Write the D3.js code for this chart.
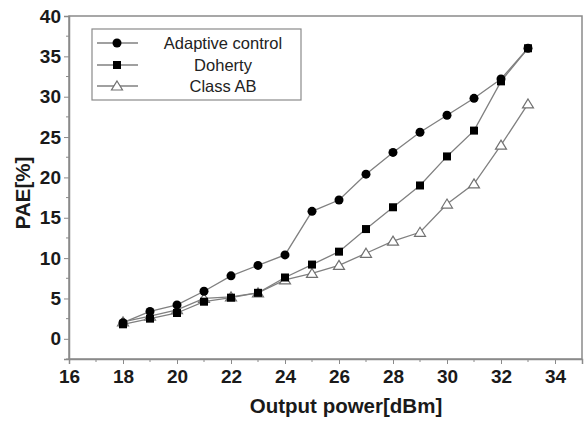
<!DOCTYPE html>
<html>
<head>
<meta charset="utf-8">
<script src="https://cdn.jsdelivr.net/npm/d3@7"></script>
<style>
  body { margin: 0; background: #fff; }
  svg { display: block; font-family: "Liberation Sans", Arial, sans-serif; }
</style>
</head>
<body>
<div id="chart"></div>
<script>
var power = [18, 19, 20, 21, 22, 23, 24, 25, 26, 27, 28, 29, 30, 31, 32, 33];
var adaptive = [2.0, 3.4, 4.2, 5.9, 7.8, 9.1, 10.4, 15.8, 17.2, 20.4, 23.1, 25.6, 27.7, 29.8, 32.2, 36.0];
var doherty = [1.8, 2.5, 3.2, 4.6, 5.1, 5.7, 7.6, 9.2, 10.8, 13.6, 16.3, 19.0, 22.6, 25.8, 31.9, 36.0];
var classAB = [2.1, 2.8, 3.6, 5.0, 5.2, 5.7, 7.3, 8.1, 9.1, 10.6, 12.1, 13.2, 16.7, 19.2, 24.0, 29.1];
var xTicks = [16, 18, 20, 22, 24, 26, 28, 30, 32, 34];
var yTicks = [0, 5, 10, 15, 20, 25, 30, 35, 40];
var seriesNames = ["Adaptive control", "Doherty", "Class AB"];

var width = 587, height = 423;
var margin = {left: 69, top: 16, right: 5, bottom: 64};

var svg = d3.select('#chart').append('svg')
    .attr('width', width)
    .attr('height', height);

var x = d3.scaleLinear().domain([16, 35]).range([margin.left, width - margin.right]);
var y = d3.scaleLinear().domain([-2.5, 40]).range([height - margin.bottom, margin.top]);

var grey = '#8a8a8a';

// frame
svg.append('rect')
    .attr('x', x(16)).attr('y', y(40))
    .attr('width', x(35) - x(16)).attr('height', y(-2.5) - y(40))
    .attr('fill', 'none').attr('stroke', grey).attr('stroke-width', 1.5);

// x axis
var xAxis = svg.append('g').attr('transform', 'translate(0,' + y(-2.5) + ')')
    .call(d3.axisBottom(x).tickValues(xTicks).tickSize(5).tickPadding(6).tickFormat(d3.format('d')));
xAxis.append('g').selectAll('line').data(d3.range(17, 35, 2)).enter().append('line')
    .attr('x1', d => x(d)).attr('x2', d => x(d)).attr('y1', 0).attr('y2', 3)
    .attr('stroke', grey);

// y axis
var yAxis = svg.append('g').attr('transform', 'translate(' + x(16) + ',0)')
    .call(d3.axisLeft(y).tickValues(yTicks).tickSize(5).tickPadding(3).tickFormat(d3.format('d')));
yAxis.append('g').selectAll('line').data(d3.range(-2.5, 40, 5)).enter().append('line')
    .attr('x1', 0).attr('x2', -3).attr('y1', d => y(d)).attr('y2', d => y(d))
    .attr('stroke', grey);

svg.selectAll('.domain').attr('stroke', grey).attr('stroke-width', 1.5);
svg.selectAll('.tick line').attr('stroke', grey);
svg.selectAll('.tick text')
    .attr('fill', '#1a1a1a')
    .style('font-size', '19px')
    .style('font-weight', 'bold')
    .style('font-family', '"Liberation Sans", Arial, sans-serif');

// axis titles
svg.append('text')
    .attr('x', 346).attr('y', 413)
    .attr('text-anchor', 'middle')
    .style('font-size', '20.5px').style('font-weight', 'bold').attr('fill', '#1a1a1a')
    .text('Output power[dBm]');

svg.append('text')
    .attr('transform', 'translate(30,193) rotate(-90)')
    .attr('text-anchor', 'middle')
    .style('font-size', '20.5px').style('font-weight', 'bold').attr('fill', '#1a1a1a')
    .text('PAE[%]');

// series
var line = d3.line().x((d, i) => x(power[i])).y(d => y(d));
var allSeries = [adaptive, doherty, classAB];

allSeries.forEach(function (s) {
  svg.append('path').datum(s)
      .attr('d', line)
      .attr('fill', 'none')
      .attr('stroke', '#808080')
      .attr('stroke-width', 1.3);
});

function drawMarker(g, type, cx, cy) {
  if (type === 0) {
    g.append('circle').attr('cx', cx).attr('cy', cy).attr('r', 4.5).attr('fill', '#000');
  } else if (type === 1) {
    g.append('rect').attr('x', cx - 4).attr('y', cy - 4).attr('width', 8).attr('height', 8).attr('fill', '#000');
  } else {
    g.append('path')
        .attr('d', 'M' + cx + ',' + (cy - 5) + 'L' + (cx + 5.5) + ',' + (cy + 4) + 'L' + (cx - 5.5) + ',' + (cy + 4) + 'Z')
        .attr('fill', '#fff').attr('stroke', '#707070').attr('stroke-width', 1.2);
  }
}

// draw AB first, then Doherty, then adaptive on top
[2, 1, 0].forEach(function (k) {
  var g = svg.append('g');
  allSeries[k].forEach(function (v, i) {
    drawMarker(g, k, x(power[i]), y(v));
  });
});

// legend
var legend = svg.append('g');
legend.append('rect')
    .attr('x', 92).attr('y', 29).attr('width', 209).attr('height', 71)
    .attr('fill', '#fff').attr('stroke', grey).attr('stroke-width', 1.2);

var legendY = [43, 65, 86];
seriesNames.forEach(function (name, k) {
  legend.append('line')
      .attr('x1', 97).attr('x2', 138).attr('y1', legendY[k]).attr('y2', legendY[k])
      .attr('stroke', '#808080').attr('stroke-width', 1.3);
  var g = legend.append('g');
  drawMarker(g, k, 117, legendY[k]);
  legend.append('text')
      .attr('x', 223).attr('y', legendY[k] + 6)
      .attr('text-anchor', 'middle')
      .style('font-size', '16.5px').attr('fill', '#222')
      .text(name);
});
</script>
</body>
</html>
